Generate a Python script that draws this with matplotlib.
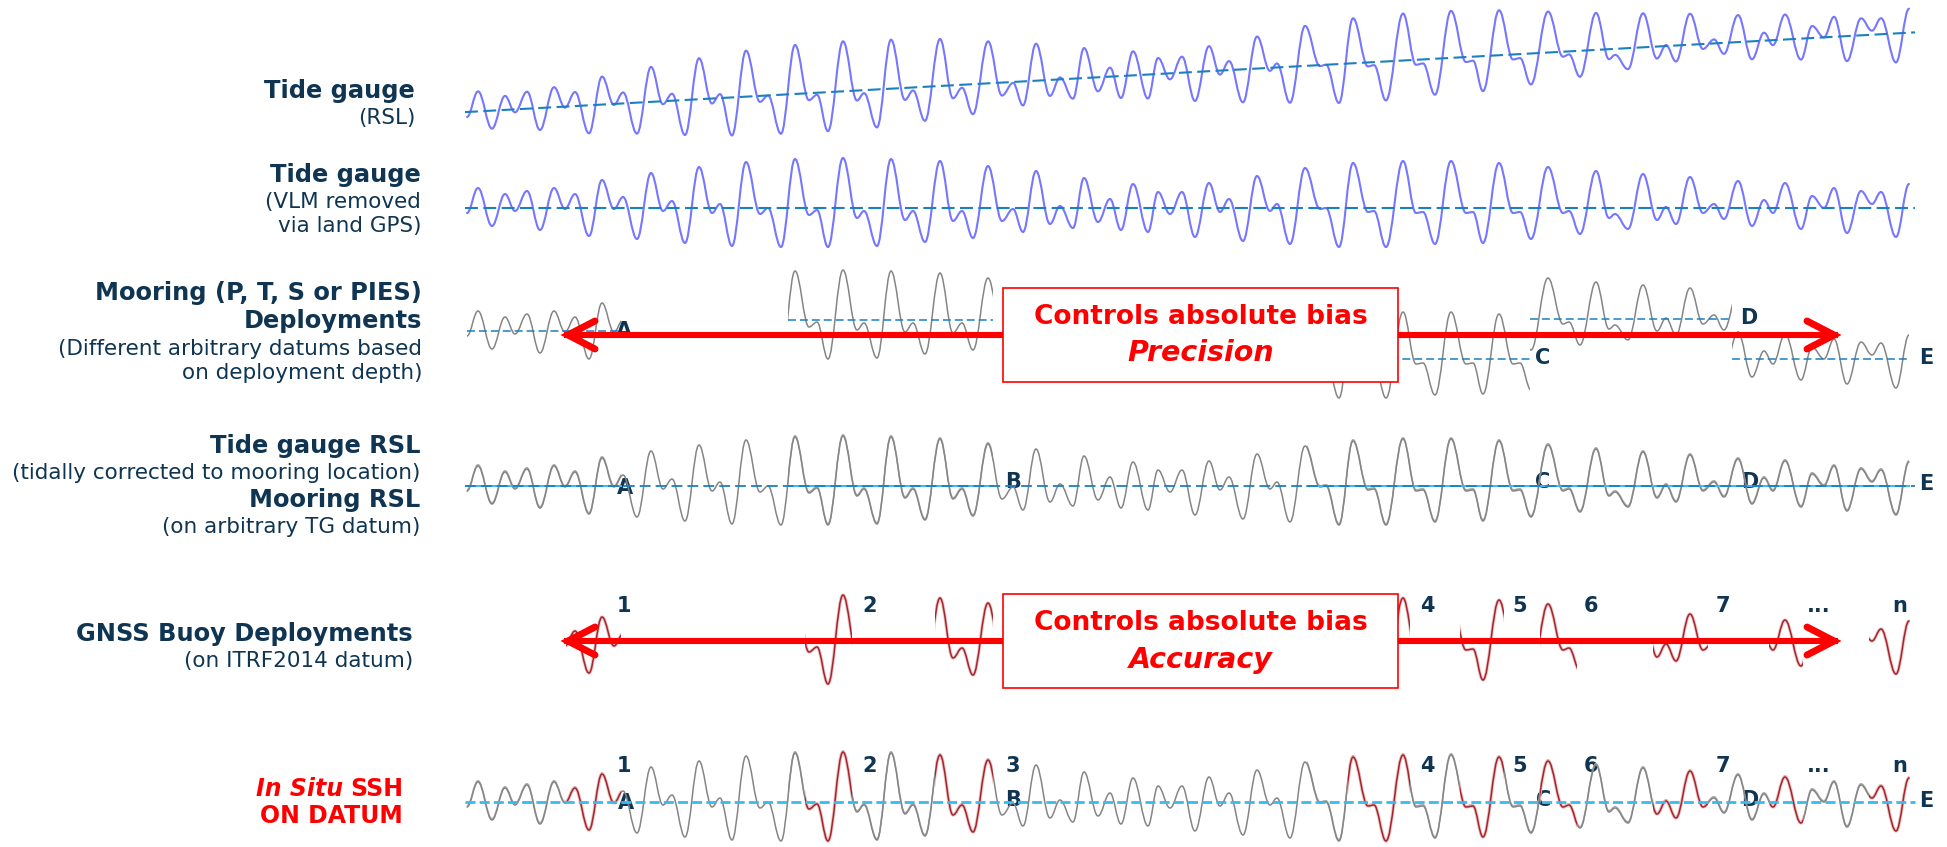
import numpy as np
import matplotlib
matplotlib.use("Agg")
import matplotlib.pyplot as plt
from matplotlib.path import Path
from matplotlib.patches import PathPatch, Rectangle

# ---------------------------------------------------------------- data
# Tidal signal (turning points): time in hours, level in cm
tide_hours = [0, 5.5, 12.5, 19, 24, 30, 36.5, 43.5, 49, 54, 61, 67.5, 73.5, 78, 85, 92, 98,
              102.5, 109, 116, 122.5, 126.5, 132.5, 139.5, 146.5, 150.5, 157, 164, 171, 175,
              180.5, 188, 195, 198.5, 205, 212, 219, 223, 229, 236.5, 243, 247.5, 253, 260.5,
              267.5, 273, 278, 284.5, 291.5, 296.5, 303, 308.5, 315.5, 321.5, 327, 333, 340.5,
              345.5, 351.5, 357.5, 364, 371, 376.5, 381, 388, 395, 401.5, 405, 411.5, 419,
              426.5, 429.5, 436, 443, 450.5, 453.5, 459.5, 468, 474.5, 478, 484, 492, 499.5,
              503, 508, 516, 523, 526.5, 532, 540.5, 548, 551, 556.5, 564.5, 571, 574, 580.5,
              588, 595, 599.5, 604.5, 611.5, 618, 623.5, 628.5, 635.5, 642.5, 648.5, 653, 659,
              667, 672.5, 678.5, 683.5, 690, 697, 702.5, 707, 714.5, 721]
tide_level_cm = [-10, 40, -36, 28, -6, 34, -44, 40, -2, 28, -56, 56, -2, 22, -62, 70, -6,
                 14, -70, 82, -10, 8, -76, 92, -12, 0, -78, 98, -14, -4,
                 -78, 100, -20, -6, -76, 98, -24, -6, -68, 94, -26, -6, -60, 84,
                 -26, -2, -48, 74, -32, 4, -40, 60, -28, 18, -44, 48, -48,
                 32, -12, 32, -58, 50, -8, 18, -66, 64, -6, 8, -72, 80,
                 -2, 0, -78, 90, -8, -6, -78, 94, -10, -8, -72, 94, -10,
                 -8, -70, 90, -10, -8, -62, 82, -10, -6, -52, 74, -20, -12, -42,
                 68, -24, 2, -32, 62, -10, 8, -22, 54, -36, 16, -10, 50,
                 -42, 24, 0, 40, -50, 34, 8, 32, -58, 48]

# Relative sea level trend seen by the tide gauge (cm per hour)
rsl_trend_cm_per_hour = 0.22

# Mooring deployments: time span (hours) and arbitrary datum offset (cm)
mooring_names = ["A", "B", "C", "D", "E"]
mooring_start_h = [0, 160.5, 420, 531.5, 632.5]
mooring_end_h = [77, 263, 531.5, 632.5, 721]
mooring_datum_offset_cm = [0, 22, -56, 24, -56]

# GNSS buoy deployments: time span (hours)
buoy_names = ["1", "2", "3", "4", "5", "6", "7", "...", "n"]
buoy_start_h = [49.5, 169, 234, 440.5, 496.5, 536.5, 593, 651, 701]
buoy_end_h = [77, 192.5, 263, 471.5, 518.5, 555, 620.5, 668, 721.5]

# ---------------------------------------------------------------- style / layout
W, H = 1947, 847
T0_PX, PX_PER_HOUR, CM_PER_PX = 467, 2.0, 2.0
NAVY = "#0f3552"
WAVE_BLUE = "#7676ff"
DASH_BLUE = "#1a80c0"
LIGHT_BLUE = "#3cb9f0"
GREY = "#858585"
GREY2 = "#a9a9a9"
BUOY_RED = "#a3262e"
BUOY_HALO = "#eec2c2"
RED = "#ff0000"
K = 0.38
TAG_SIZE = 15

fig = plt.figure(figsize=(W / 100, H / 100), dpi=100)
fig.patch.set_facecolor("white")


def fx(px):
    return px / W


def fy(py):
    return 1 - py / H


def row_axes(ref_py, z):
    ax = fig.add_axes([0, 0, 1, 1], zorder=z)
    ax.set_xlim(-T0_PX / PX_PER_HOUR, (W - T0_PX) / PX_PER_HOUR)
    ax.set_ylim(CM_PER_PX * (ref_py - H), CM_PER_PX * ref_py)
    ax.axis("off")
    ax.patch.set_visible(False)
    return ax


def tide_path(offset=0.0, trend=0.0):
    t = np.asarray(tide_hours, float)
    h = np.asarray(tide_level_cm, float)
    verts = [(t[0], h[0])]
    codes = [Path.MOVETO]
    for i in range(len(t) - 1):
        dt = t[i + 1] - t[i]
        verts += [(t[i] + K * dt, h[i]), (t[i + 1] - K * dt, h[i + 1]), (t[i + 1], h[i + 1])]
        codes += [Path.CURVE4] * 3
    v = np.array(verts)
    v[:, 1] += offset + trend * v[:, 0]
    return Path(v, codes)


def draw_wave(ax, path, color, lw, t0=None, t1=None, z=2):
    p = PathPatch(path, fill=False, edgecolor=color, lw=lw, zorder=z,
                  capstyle="round", joinstyle="round")
    ax.add_patch(p)
    if t0 is not None:
        clip = Rectangle((t0, -1e5), t1 - t0, 2e5, transform=ax.transData)
        p.set_clip_path(clip)
    return p


def dashed(ax, t0, t1, h0, h1, color, lw, dashes, z=3):
    ax.plot([t0, t1], [h0, h1], color=color, lw=lw, dashes=dashes, zorder=z,
            solid_capstyle="butt", dash_capstyle="butt")


def arrow(ax, t_from, t_tip, h):
    d = np.sign(t_tip - t_from)
    ax.plot([t_from, t_tip + d * 2], [h, h], color=RED, lw=4.4, solid_capstyle="butt", zorder=8)
    ax.plot([t_tip - d * 13.5, t_tip, t_tip - d * 13.5], [h + 28, h, h - 28], color=RED,
            lw=5.0, solid_capstyle="round", solid_joinstyle="miter", zorder=8)


def bias_box(ax, t0, t1, h_bot, h_top, line2, h1, h2):
    ax.add_patch(Rectangle((t0, h_bot), t1 - t0, h_top - h_bot, facecolor="white",
                           edgecolor=RED, lw=1.2, zorder=10))
    tc = (t0 + t1) / 2
    ax.text(tc, h1, "Controls absolute bias", color=RED, fontsize=19, fontweight="bold",
            ha="center", va="center", zorder=11)
    ax.text(tc, h2, line2, color=RED, fontsize=20.5, fontweight="bold", style="italic",
            ha="center", va="center", zorder=11)


def tag(px, py, s, size=TAG_SIZE):
    fig.text(fx(px), fy(py), s, color=NAVY, fontsize=size, fontweight="bold",
             ha="center", va="baseline", zorder=1)


t_dash0 = tide_hours[0] - 1
t_dash1 = tide_hours[-1] + 3

# ---------------------------------------------------------------- row 1: tide gauge RSL
ax1 = row_axes(112, 1)
draw_wave(ax1, tide_path(trend=rsl_trend_cm_per_hour), WAVE_BLUE, 1.5)
dashed(ax1, t_dash0, t_dash1, rsl_trend_cm_per_hour * t_dash0, rsl_trend_cm_per_hour * t_dash1,
       DASH_BLUE, 1.5, (6.2, 2.6))

# ---------------------------------------------------------------- row 2: VLM removed
ax2 = row_axes(208, 2)
draw_wave(ax2, tide_path(), WAVE_BLUE, 1.5)
dashed(ax2, t_dash0, t_dash1, 0, 0, DASH_BLUE, 1.5, (6.2, 2.6))

# ---------------------------------------------------------------- row 3: mooring deployments
ax3 = row_axes(331, 3)
for s, e, off in zip(mooring_start_h, mooring_end_h, mooring_datum_offset_cm):
    draw_wave(ax3, tide_path(offset=off), GREY, 1.1, s, e)
    dashed(ax3, s, e, off, off, DASH_BLUE, 1.1, (5.2, 2.6))
arrow(ax3, 268, 50.5, -8)
arrow(ax3, 465.5, 683.5, -8)
bias_box(ax3, 268, 465.5, -102, 86, "Precision", 28, -44)
for name, px, py in [("A", 624, 337), ("C", 1543, 364), ("D", 1749, 324), ("E", 1926, 364)]:
    tag(px, py, name)

# ---------------------------------------------------------------- row 4: TG RSL + mooring RSL
ax4 = row_axes(486, 4)
for s, e in zip(mooring_start_h, mooring_end_h):
    draw_wave(ax4, tide_path(offset=2.5), GREY2, 1.1, s, e)
    ax4.plot([s, e], [0, 0], color=LIGHT_BLUE, lw=1.4, zorder=2.5)
draw_wave(ax4, tide_path(), GREY, 1.1)
dashed(ax4, t_dash0, t_dash1, 0, 0, DASH_BLUE, 1.3, (6.0, 2.8))
for name, px, py in [("A", 625, 494), ("B", 1013, 488), ("C", 1543, 488), ("D", 1750, 488),
                     ("E", 1926, 490)]:
    tag(px, py, name)

# ---------------------------------------------------------------- row 5: GNSS buoys
ax5 = row_axes(645, 5)
for s, e in zip(buoy_start_h, buoy_end_h):
    draw_wave(ax5, tide_path(), BUOY_HALO, 2.4, s, e)
    draw_wave(ax5, tide_path(), BUOY_RED, 1.1, s, e)
arrow(ax5, 268, 50.5, 8)
arrow(ax5, 465.5, 683.5, 8)
bias_box(ax5, 268, 465.5, -86, 102, "Accuracy", 44, -30)
num_px = [624, 870, 1013, 1427, 1519.5, 1591, 1723, 1819, 1900]
for name, px in zip(buoy_names, num_px):
    if name != "3":
        tag(px, 612, name)

# ---------------------------------------------------------------- row 6: in situ SSH on datum
ax6 = row_axes(802, 6)
for s, e in zip(mooring_start_h, mooring_end_h):
    draw_wave(ax6, tide_path(offset=2.5), GREY2, 1.1, s, e)
draw_wave(ax6, tide_path(), GREY, 1.1)
for s, e in zip(buoy_start_h, buoy_end_h):
    draw_wave(ax6, tide_path(), BUOY_HALO, 2.4, s, e, z=2.2)
    draw_wave(ax6, tide_path(), BUOY_RED, 1.1, s, e, z=2.3)
dashed(ax6, t_dash0, t_dash1, 0, 0, LIGHT_BLUE, 2.0, (3.6, 1.5))
for name, px in zip(buoy_names, num_px):
    tag(px, 772, name)
for name, px, py in [("A", 626, 809), ("B", 1013.5, 806), ("C", 1544, 806), ("D", 1750, 806),
                     ("E", 1926, 807)]:
    tag(px, py, name)

# ---------------------------------------------------------------- left-hand labels
labels = [
    ("Tide gauge", 415, 98, "bold"),
    ("(RSL)", 415, 124, "normal"),
    ("Tide gauge", 421, 182, "bold"),
    ("(VLM removed", 421, 208, "normal"),
    ("via land GPS)", 421, 232, "normal"),
    ("Mooring (P, T, S or PIES)", 422, 300, "bold"),
    ("Deployments", 422, 328, "bold"),
    ("(Different arbitrary datums based", 422, 355, "normal"),
    ("on deployment depth)", 422, 379, "normal"),
    ("Tide gauge RSL", 420, 453, "bold"),
    ("(tidally corrected to mooring location)", 420, 479, "normal"),
    ("Mooring RSL", 420, 507, "bold"),
    ("(on arbitrary TG datum)", 420, 533, "normal"),
    ("GNSS Buoy Deployments", 413, 641, "bold"),
    ("(on ITRF2014 datum)", 413, 667, "normal"),
]
for s, px, py, w in labels:
    fig.text(fx(px), fy(py), s, color=NAVY, fontsize=17.4 if w == "bold" else 15.5,
             fontweight=w, ha="right", va="baseline")

ssh = fig.text(fx(403), fy(796), "SSH", color=RED, fontsize=17, fontweight="bold",
               ha="right", va="baseline")
fig.text(fx(403), fy(823), "ON DATUM", color=RED, fontsize=17, fontweight="bold",
         ha="right", va="baseline")
ax6.annotate("In Situ", xy=(0, 0), xycoords=ssh, xytext=(-5, 0), textcoords="offset points",
             color=RED, fontsize=17, fontweight="bold", style="italic", ha="right", va="bottom",
             annotation_clip=False)

fig.savefig("out.png", dpi=100, facecolor="white")
